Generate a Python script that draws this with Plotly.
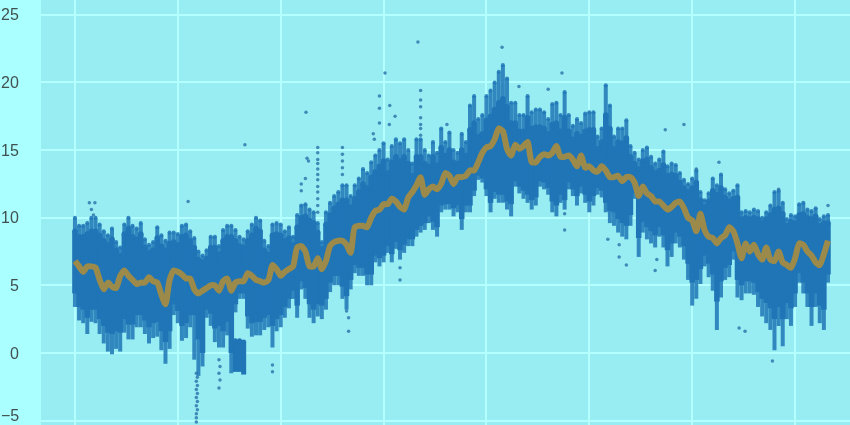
import plotly.graph_objects as go

DAYS = list(range(0, 368, 2))
HIGH = [10.0,9.4,9.4,9.6,10.0,10.0,9.5,9.0,8.7,9.2,
 8.2,7.8,9.5,10.0,9.4,9.2,9.6,8.4,8.0,8.2,
 9.3,8.7,8.3,8.9,8.9,8.8,9.4,9.5,9.0,8.5,
 7.5,7.2,7.6,8.6,8.6,7.9,9.1,9.4,9.4,9.1,
 8.6,8.4,9.0,9.5,10.0,9.8,8.3,7.9,9.5,9.6,
 9.5,9.0,9.3,8.6,10.2,10.9,11.0,10.6,10.4,9.6,
 8.2,10.4,11.1,11.6,11.9,12.4,12.4,11.6,12.4,12.9,
 13.6,13.3,14.1,14.6,15.0,15.5,14.3,15.3,15.8,15.5,
 15.8,15.0,14.0,15.8,15.8,15.0,14.6,15.6,14.8,16.6,
 15.6,16.3,15.0,14.8,16.2,15.6,18.3,19.0,17.3,17.6,
 19.0,19.4,20.0,20.8,21.3,20.3,18.5,18.5,17.6,17.6,
 19.0,17.8,18.0,18.0,17.8,17.3,18.4,18.5,17.6,19.3,
 17.6,16.8,17.3,17.0,17.7,17.8,17.8,16.0,16.6,19.8,
 18.3,16.0,16.6,16.6,17.2,15.3,14.8,14.3,15.0,15.2,
 14.5,14.0,14.3,14.9,13.8,14.0,13.9,13.3,12.8,12.5,
 12.9,13.5,11.9,11.3,11.8,12.9,12.4,13.2,12.1,11.8,
 12.0,12.4,10.4,10.5,10.4,10.6,10.5,10.0,10.4,10.9,
 11.9,12.0,11.1,9.9,10.2,10.1,11.0,11.1,10.6,10.5,
 10.7,9.9,10.1,10.2]
LOW = [3.4,2.4,2.2,1.4,2.3,2.2,1.4,0.7,0.1,-0.1,
 0.3,0.1,1.5,1.0,1.0,1.9,1.9,1.4,0.7,1.1,
 1.2,0.2,-0.8,0.3,2.8,2.2,0.9,1.1,1.9,-0.5,
 -1.7,-1.0,2.6,2.0,0.8,0.4,0.4,1.3,-1.5,3.0,
 4.0,4.0,1.8,1.2,1.3,1.3,1.7,1.9,0.4,1.6,
 1.9,2.6,3.3,4.0,2.6,4.7,4.0,2.6,2.2,2.7,
 2.5,3.2,4.5,5.0,5.0,4.0,3.2,4.7,5.9,5.7,
 5.7,5.0,5.0,6.7,6.4,6.7,7.4,6.7,7.7,6.9,
 7.4,7.9,7.9,8.6,8.9,9.1,9.6,9.1,8.6,10.4,
 10.6,10.6,10.1,10.4,9.1,10.4,10.4,11.6,12.8,12.6,
 11.6,10.4,11.4,11.1,11.1,10.6,10.1,12.3,11.8,11.4,
 11.1,10.6,10.9,12.3,12.1,11.7,10.4,10.1,11.1,10.6,
 12.1,11.6,10.9,11.8,11.1,10.4,10.9,11.7,11.5,10.4,
 9.6,9.4,8.9,8.6,8.4,9.4,11.4,7.1,8.9,8.4,
 8.1,7.8,8.6,7.8,6.4,7.1,8.1,7.8,6.9,5.4,
 3.5,4.0,5.1,6.4,5.6,4.6,1.7,4.1,5.4,5.6,
 6.9,4.1,3.9,4.4,4.4,4.3,3.4,2.7,2.2,1.7,
 0.2,2.0,0.5,2.5,2.0,3.4,5.2,4.4,3.4,2.0,
 3.4,2.2,1.7,5.2]
CORE_HIGH = [9.0,8.6,8.6,8.8,9.0,9.0,8.7,8.3,8.0,8.4,
 7.6,7.2,8.8,9.2,8.6,8.4,8.8,7.8,7.4,7.6,
 8.5,7.9,7.6,8.1,8.2,8.0,8.6,8.7,8.3,7.8,
 6.9,6.7,7.0,7.8,7.8,7.3,8.3,8.6,8.6,8.3,
 7.9,7.8,8.3,8.7,9.2,9.0,7.6,7.3,8.7,8.8,
 8.7,8.3,8.5,8.0,9.3,10.0,10.1,9.8,9.6,8.9,
 7.7,9.5,10.2,10.7,11.0,11.3,11.3,10.8,11.4,11.9,
 12.5,12.2,13.0,13.4,13.8,14.2,13.3,14.1,14.5,14.2,
 14.5,14.0,13.1,14.5,14.5,14.0,13.8,14.5,13.9,15.2,
 14.6,15.0,14.1,14.0,15.0,14.6,16.5,17.0,16.0,16.2,
 17.2,17.5,18.0,18.5,18.8,18.2,17.0,17.0,16.4,16.4,
 17.4,16.6,16.7,16.7,16.6,16.2,16.9,17.0,16.4,17.4,
 16.4,15.8,16.2,16.0,16.4,16.5,16.5,15.1,15.6,17.6,
 16.6,15.1,15.6,15.5,15.9,14.5,14.0,13.6,14.2,14.3,
 13.7,13.3,13.5,13.9,13.1,13.2,13.1,12.6,12.2,11.9,
 12.2,12.6,11.3,10.8,11.2,12.0,11.7,12.2,11.5,11.2,
 11.4,11.5,9.9,10.0,9.9,10.0,9.9,9.6,9.9,10.2,
 10.6,10.7,10.3,9.4,9.7,9.6,10.2,10.3,10.0,9.9,
 10.1,9.4,9.6,9.6]
CORE_LOW = [4.4,3.4,3.2,2.6,3.2,3.2,2.5,2.0,1.5,1.4,
 1.6,1.5,2.5,2.1,2.1,2.8,2.8,2.4,1.9,2.2,
 2.3,1.6,0.8,1.6,3.6,3.1,2.0,2.2,2.8,2.8,
 1.0,0.0,3.2,2.9,1.8,2.0,1.6,2.3,0.0,3.6,
 4.4,4.4,2.7,2.2,2.3,2.3,2.6,2.8,2.0,2.5,
 2.8,3.4,4.0,4.6,3.5,5.3,4.8,3.6,3.2,3.6,
 3.5,4.0,5.2,5.7,5.7,4.9,4.2,5.4,6.5,6.3,
 6.3,5.8,5.8,7.2,7.0,7.2,7.9,7.3,8.2,7.6,
 8.0,8.4,8.4,9.1,9.4,9.6,10.1,9.7,9.3,10.9,
 11.0,11.0,10.7,10.9,9.9,10.9,10.9,12.0,13.1,12.9,
 12.1,11.1,11.9,11.7,11.7,11.2,11.0,12.7,12.3,12.0,
 11.7,11.3,11.5,12.7,12.6,12.2,11.2,10.9,11.7,11.3,
 12.6,12.1,11.6,12.3,11.7,11.2,11.6,12.2,12.0,11.1,
 10.5,10.4,9.9,9.6,9.4,10.2,11.8,8.5,9.7,9.3,
 9.0,8.7,9.3,8.7,7.6,8.1,8.9,8.6,7.9,6.6,
 5.2,5.4,6.2,7.2,6.6,5.8,3.8,5.3,6.3,6.5,
 7.5,5.4,5.0,5.3,5.3,5.2,4.5,4.0,3.7,3.3,
 2.5,3.4,2.5,3.7,3.3,4.4,5.9,5.2,4.4,3.4,
 4.4,3.5,3.2,5.8]
MEAN = [6.8,6.4,6.0,6.4,6.4,6.3,5.4,4.7,5.2,4.9,
 4.8,5.7,6.1,5.7,5.4,5.1,5.2,5.2,5.6,5.3,
 5.2,4.3,3.6,5.4,6.1,6.0,5.8,5.5,5.5,4.7,
 4.4,4.6,4.8,5.0,5.0,4.6,5.3,5.5,4.6,5.2,
 5.3,5.3,5.9,5.7,5.4,5.3,5.2,5.4,6.5,6.2,
 5.7,6.0,6.2,6.4,7.8,7.9,7.5,6.4,6.4,7.0,
 6.2,6.8,7.9,8.2,8.3,8.3,8.0,7.4,9.3,9.4,
 9.4,9.3,10.0,10.5,10.6,11.0,11.0,11.4,11.2,10.8,
 10.6,11.5,11.9,12.4,13.0,11.7,12.1,12.3,12.1,12.5,
 13.3,13.1,12.5,13.0,13.0,13.1,13.5,13.5,14.1,14.8,
 15.2,15.3,15.8,16.6,16.4,15.1,14.6,15.4,15.1,15.3,
 15.6,14.1,14.1,14.5,14.7,14.6,14.8,15.3,14.5,14.5,
 14.6,14.3,13.8,14.6,13.7,13.8,13.5,13.4,13.8,13.5,
 13.0,13.0,13.1,12.7,13.0,13.0,12.6,11.6,12.3,11.8,
 11.6,11.2,11.2,10.9,10.6,10.8,11.1,11.2,10.7,10.0,
 9.8,9.0,10.3,9.1,8.6,8.5,8.1,8.5,8.7,9.3,
 9.0,8.1,7.0,8.1,7.5,8.0,7.3,6.9,7.8,6.9,
 6.8,7.5,6.7,6.5,6.3,7.0,8.1,8.0,7.5,7.2,
 6.7,6.5,7.3,8.3]
ISLAND_DAYS = [78, 80, 82]
ISLAND_HIGH = [0.9, 0.9, 0.8]
ISLAND_LOW = [-1.4, -1.4, -1.6]
SPARSE_DAYS = [82.6,55,112.3,150.7,166.7,207.6,236.7,286.9,296,
 7,9.7,8,9,
 59,59,59,59.5,59,59.5,59,59.5,59,59.5,59,59.5,59,
 70,70.5,70,70.5,70,96,96,
 118,118,118,118,118,118,118,118,118,118,118,118,
 130,130,130,130,130,
 112.8,113.5,112,110,110,
 132,133,133,158,158,
 168,168,168,168,168,168,168,
 148,148,148,153,155.6,152.8,145,145.5,180.8,215.8,230,
 238,238,313,302,342,366,339,322.8,325.7,282.8,282,268,264.5,264.5,259]
SPARSE_VALS = [15.4,11.2,17.8,20.7,23.0,22.6,20.7,16.5,16.9,
 11.1,11.1,10.6,10.2,
 -5.1,-4.8,-4.5,-4.2,-3.9,-3.6,-3.3,-3.0,-2.7,-2.4,-2.1,-1.8,-1.5,
 -0.5,-1.0,-1.5,-2.0,-2.6,-0.9,-1.4,
 15.2,14.8,14.3,14.0,13.6,13.2,12.8,12.3,11.9,11.4,10.9,10.4,
 15.2,14.7,14.2,13.7,13.2,
 14.4,14.2,12.9,12.5,12.0,
 3.1,2.6,1.6,6.3,5.4,
 19.4,18.7,18.2,17.4,16.9,16.6,16.1,
 19.0,18.1,17.0,18.3,17.5,16.9,16.2,15.8,16.9,19.7,19.5,
 10.3,9.1,14.1,13.6,12.1,10.9,-0.6,1.85,1.6,6.9,6.1,6.5,8.0,7.1,8.4]
Y_TICKS = [-5, 0, 5, 10, 15, 20, 25]
X_TICKS = [0, 50, 100, 150, 200, 250, 300, 350]

assert len(DAYS) == len(HIGH) == len(LOW) == len(MEAN) == len(CORE_HIGH) == len(CORE_LOW)
assert len(SPARSE_DAYS) == len(SPARSE_VALS)

BLUE = "#1f75b6"
FRINGE = "rgba(31,117,182,0.85)"
OCHRE = "#9c8a4a"


def band(x, hi, lo, color, thick):
    return go.Scatter(
        x=x, y=hi, mode="markers", marker=dict(size=thick, color=color),
        error_y=dict(type="data", symmetric=False, array=[0] * len(hi),
                     arrayminus=[h - l for h, l in zip(hi, lo)],
                     color=color, thickness=thick, width=0),
    )


fig = go.Figure()
fig.add_trace(band(DAYS, HIGH, LOW, FRINGE, 4))
fig.add_trace(band(DAYS, CORE_HIGH, CORE_LOW, BLUE, 5.5))
fig.add_trace(band(ISLAND_DAYS, ISLAND_HIGH, ISLAND_LOW, BLUE, 5))
fig.add_trace(go.Scatter(x=SPARSE_DAYS, y=SPARSE_VALS, mode="markers",
                         marker=dict(size=3.5, color="#2f78ad", opacity=0.85)))
fig.add_trace(go.Scatter(x=DAYS, y=MEAN, mode="lines",
                         line=dict(color=OCHRE, width=6, shape="spline", smoothing=0.6)))

fig.update_layout(
    width=850, height=425, showlegend=False,
    margin=dict(l=41, r=0, t=0, b=0, pad=0),
    paper_bgcolor="#aaffff", plot_bgcolor="#98edf2",
    font=dict(family="Liberation Sans, Arial, sans-serif", size=16, color="#40514f"),
    xaxis=dict(range=[-16.5, 376.7], tickvals=X_TICKS, showticklabels=False,
               gridcolor="#b4ffff", gridwidth=2, zeroline=False, showline=False, ticks=""),
    yaxis=dict(range=[-5.33, 26.1], tickvals=Y_TICKS, tickformat="d",
               gridcolor="#b4ffff", gridwidth=2, zeroline=False, showline=False,
               ticks="outside", ticklen=18, tickcolor="rgba(0,0,0,0)"),
    annotations=[dict(text="\u22125", xref="paper", yref="y", x=0, y=-5, xanchor="right",
                      yanchor="middle", xshift=-20, yshift=5, showarrow=False,
                      font=dict(size=16, color="#40514f"))],
)
fig.write_html(
    "out.html",
    config={"displayModeBar": False},
    post_script="document.body.style.margin='0';document.documentElement.style.overflow='hidden';"
                "document.querySelector('.plotly-graph-div').style.filter='blur(0.6px)';",
)
